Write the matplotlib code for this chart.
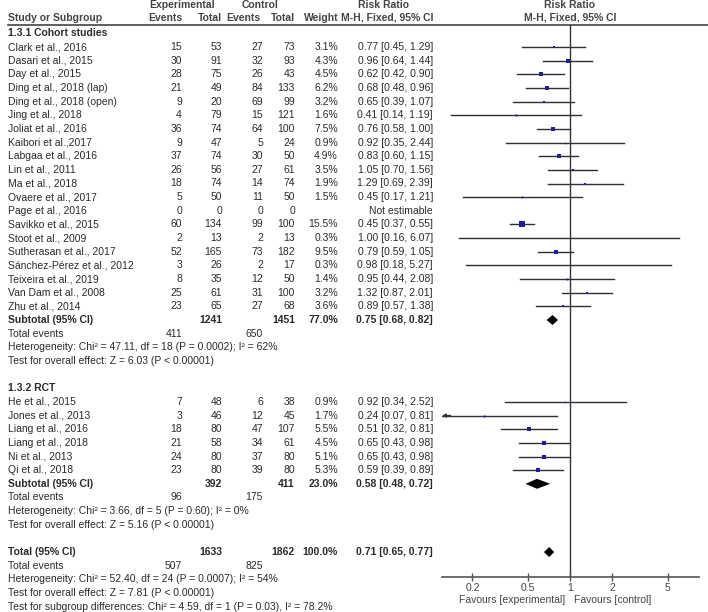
"""
Forest plot: risk ratio, cohort studies vs RCT subgroups (M-H, fixed)
"""
import matplotlib
matplotlib.use('Agg')
import matplotlib.pyplot as plt
import numpy as np

plt.rcParams['font.family'] = ['Liberation Sans', 'DejaVu Sans']
plt.rcParams['font.size'] = 7.5

# ---- data ----
cohort_names = ['Clark et al., 2016', 'Dasari et al., 2015', 'Day et al., 2015',
                'Ding et al., 2018 (lap)', 'Ding et al., 2018 (open)', 'Jing et al., 2018',
                'Joliat et al., 2016', 'Kaibori et al.,2017', 'Labgaa et al., 2016',
                'Lin et al., 2011', 'Ma et al., 2018', 'Ovaere et al., 2017',
                'Page et al., 2016', 'Savikko et al., 2015', 'Stoot et al., 2009',
                'Sutherasan et al., 2017', 'Sánchez-Pérez et al., 2012',
                'Teixeira et al., 2019', 'Van Dam et al., 2008', 'Zhu et al., 2014']
cohort_exp_events = [15, 30, 28, 21, 9, 4, 36, 9, 37, 26, 18, 5, 0, 60, 2, 52, 3, 8, 25, 23]
cohort_exp_total = [53, 91, 75, 49, 20, 79, 74, 47, 74, 56, 74, 50, 0, 134, 13, 165, 26, 35, 61, 65]
cohort_ctl_events = [27, 32, 26, 84, 69, 15, 64, 5, 30, 27, 14, 11, 0, 99, 2, 73, 2, 12, 31, 27]
cohort_ctl_total = [73, 93, 43, 133, 99, 121, 100, 24, 50, 61, 74, 50, 0, 100, 13, 182, 17, 50, 100, 68]
cohort_weight = [3.1, 4.3, 4.5, 6.2, 3.2, 1.6, 7.5, 0.9, 4.9, 3.5, 1.9, 1.5, None, 15.5, 0.3,
                 9.5, 0.3, 1.4, 3.2, 3.6]
cohort_rr = [0.77, 0.96, 0.62, 0.68, 0.65, 0.41, 0.76, 0.92, 0.83, 1.05, 1.29, 0.45, None,
             0.45, 1.00, 0.79, 0.98, 0.95, 1.32, 0.89]
cohort_lo = [0.45, 0.64, 0.42, 0.48, 0.39, 0.14, 0.58, 0.35, 0.60, 0.70, 0.69, 0.17, None,
             0.37, 0.16, 0.59, 0.18, 0.44, 0.87, 0.57]
cohort_hi = [1.29, 1.44, 0.90, 0.96, 1.07, 1.19, 1.00, 2.44, 1.15, 1.56, 2.39, 1.21, None,
             0.55, 6.07, 1.05, 5.27, 2.08, 2.01, 1.38]

rct_names = ['He et al., 2015', 'Jones et al., 2013', 'Liang et al., 2016',
             'Liang et al., 2018', 'Ni et al., 2013', 'Qi et al., 2018']
rct_exp_events = [7, 3, 18, 21, 24, 23]
rct_exp_total = [48, 46, 80, 58, 80, 80]
rct_ctl_events = [6, 12, 47, 34, 37, 39]
rct_ctl_total = [38, 45, 107, 61, 80, 80]
rct_weight = [0.9, 1.7, 5.5, 4.5, 5.1, 5.3]
rct_rr = [0.92, 0.24, 0.51, 0.65, 0.65, 0.59]
rct_lo = [0.34, 0.07, 0.32, 0.43, 0.43, 0.39]
rct_hi = [2.52, 0.81, 0.81, 0.98, 0.98, 0.89]

# subgroup / overall: (exp total, ctl total, weight, rr, lo, hi, exp events, ctl events)
sub_cohort = (1241, 1451, 77.0, 0.75, 0.68, 0.82, 411, 650)
sub_rct = (392, 411, 23.0, 0.58, 0.48, 0.72, 96, 175)
overall = (1633, 1862, 100.0, 0.71, 0.65, 0.77, 507, 825)

het_cohort = 'Heterogeneity: Chi² = 47.11, df = 18 (P = 0.0002); I² = 62%'
eff_cohort = 'Test for overall effect: Z = 6.03 (P < 0.00001)'
het_rct = 'Heterogeneity: Chi² = 3.66, df = 5 (P = 0.60); I² = 0%'
eff_rct = 'Test for overall effect: Z = 5.16 (P < 0.00001)'
het_all = 'Heterogeneity: Chi² = 52.40, df = 24 (P = 0.0007); I² = 54%'
eff_all = 'Test for overall effect: Z = 7.81 (P < 0.00001)'
sub_diff = 'Test for subgroup differences: Chi² = 4.59, df = 1 (P = 0.03), I² = 78.2%'

ticks = [0.2, 0.5, 1, 2, 5]

# ---- layout (pixel coordinates) ----
W, H = 708, 612
ROW0, DY = 47.0, 13.65
def row_y(i):
    return ROW0 + i * DY

X_NAME = 8
X_EE, X_ET, X_CE, X_CT, X_W, X_RR = 182, 222, 263, 295, 338, 433
AX_L, AX_R, AX_TOP, AX_BOT = 442, 699, 25, 577
PX_DEC = 139.5
X_ONE = 570
TXT = '#2a2a2a'
HDR = '#444444'

fig = plt.figure(figsize=(W / 100, H / 100), dpi=100)
tab = fig.add_axes([0, 0, 1, 1])
tab.set_xlim(0, W)
tab.set_ylim(H, 0)
tab.axis('off')

fa = fig.add_axes([AX_L / W, (H - AX_BOT) / H, (AX_R - AX_L) / W, (AX_BOT - AX_TOP) / H])
fa.set_xscale('log')
xmin = 10 ** ((AX_L - X_ONE) / PX_DEC)
xmax = 10 ** ((AX_R - X_ONE) / PX_DEC)
fa.set_xlim(xmin, xmax)
fa.set_ylim(AX_BOT, AX_TOP)
fa.patch.set_visible(False)
for s in ['left', 'top', 'right']:
    fa.spines[s].set_visible(False)
fa.spines['bottom'].set_color('#555555')
fa.spines['bottom'].set_linewidth(1.2)
fa.set_yticks([])
fa.set_xticks(ticks)
fa.set_xticklabels([f'{t:g}' for t in ticks])
fa.xaxis.set_minor_locator(matplotlib.ticker.NullLocator())
fa.tick_params(axis='x', direction='inout', length=6, width=1, color='#555555',
               labelsize=7.5, labelcolor=HDR, pad=1.5)
fa.axvline(1, color='#333333', lw=1.0, zorder=1)


def t(x, y, s, ha='left', bold=False, color=TXT):
    tab.text(x, y, s, ha=ha, va='center', fontweight='bold' if bold else 'normal', color=color)


# header
t(182, 5, 'Experimental', ha='center', bold=True, color=HDR)
t(260, 5, 'Control', ha='center', bold=True, color=HDR)
t(383, 5, 'Risk Ratio', ha='center', bold=True, color=HDR)
t(X_ONE, 5, 'Risk Ratio', ha='center', bold=True, color=HDR)
t(X_NAME, 18, 'Study or Subgroup', bold=True, color=HDR)
t(X_EE, 18, 'Events', ha='right', bold=True, color=HDR)
t(X_ET, 18, 'Total', ha='right', bold=True, color=HDR)
t(260, 18, 'Events', ha='right', bold=True, color=HDR)
t(X_CT, 18, 'Total', ha='right', bold=True, color=HDR)
t(X_W + 1, 18, 'Weight', ha='right', bold=True, color=HDR)
t(X_RR, 18, 'M-H, Fixed, 95% CI', ha='right', bold=True, color=HDR)
t(X_ONE, 18, 'M-H, Fixed, 95% CI', ha='center', bold=True, color=HDR)
tab.plot([X_NAME, W], [25, 25], color=HDR, lw=1.2)


def study_rows(start, names, ee, et, ce, ct, w, rr, lo, hi):
    for k, name in enumerate(names):
        y = row_y(start + k)
        t(X_NAME, y, name)
        t(X_EE, y, str(ee[k]), ha='right')
        t(X_ET, y, str(et[k]), ha='right')
        t(X_CE, y, str(ce[k]), ha='right')
        t(X_CT, y, str(ct[k]), ha='right')
        if rr[k] is None:
            t(X_RR, y, 'Not estimable', ha='right')
            continue
        t(X_W, y, f'{w[k]:.1f}%', ha='right')
        t(X_RR, y, f'{rr[k]:.2f} [{lo[k]:.2f}, {hi[k]:.2f}]', ha='right')
        left = max(lo[k], xmin)
        fa.plot([left, min(hi[k], xmax)], [y, y], color='#2f2f2f', lw=1.0, zorder=2)
        if lo[k] < xmin:
            fa.annotate('', xy=(xmin, y), xytext=(xmin * 1.15, y),
                        arrowprops=dict(arrowstyle='-|>', color='#2f2f2f', lw=1.0,
                                        mutation_scale=5, shrinkA=0, shrinkB=0))
        fa.plot([rr[k]], [y], marker='s', linestyle='none', color='#1c1ca8',
                markersize=1.1 * np.sqrt(w[k]), markeredgewidth=0, zorder=3)


def summary_row(i, label, vals):
    y = row_y(i)
    t(X_NAME, y, label, bold=True)
    t(X_ET, y, str(vals[0]), ha='right', bold=True)
    t(X_CT, y, str(vals[1]), ha='right', bold=True)
    t(X_W, y, f'{vals[2]:.1f}%', ha='right', bold=True)
    t(X_RR, y, f'{vals[3]:.2f} [{vals[4]:.2f}, {vals[5]:.2f}]', ha='right', bold=True)
    hh = 5.0
    fa.fill([vals[4], vals[3], vals[5], vals[3]], [y, y - hh, y, y + hh],
            color='black', lw=0, zorder=3)


def events_row(i, vals):
    y = row_y(i)
    t(X_NAME, y, 'Total events')
    t(X_EE, y, str(vals[6]), ha='right')
    t(X_CE, y, str(vals[7]), ha='right')


# cohort subgroup
t(X_NAME, row_y(-1), '1.3.1 Cohort studies', bold=True)
study_rows(0, cohort_names, cohort_exp_events, cohort_exp_total, cohort_ctl_events,
           cohort_ctl_total, cohort_weight, cohort_rr, cohort_lo, cohort_hi)
summary_row(20, 'Subtotal (95% CI)', sub_cohort)
events_row(21, sub_cohort)
t(X_NAME, row_y(22), het_cohort)
t(X_NAME, row_y(23), eff_cohort)

# RCT subgroup
t(X_NAME, row_y(25), '1.3.2 RCT', bold=True)
study_rows(26, rct_names, rct_exp_events, rct_exp_total, rct_ctl_events,
           rct_ctl_total, rct_weight, rct_rr, rct_lo, rct_hi)
summary_row(32, 'Subtotal (95% CI)', sub_rct)
events_row(33, sub_rct)
t(X_NAME, row_y(34), het_rct)
t(X_NAME, row_y(35), eff_rct)

# overall
summary_row(37, 'Total (95% CI)', overall)
events_row(38, overall)
t(X_NAME, row_y(39), het_all)
t(X_NAME, row_y(40), eff_all)
t(X_NAME, row_y(41), sub_diff)

t(X_ONE - 5, 600, 'Favours [experimental]', ha='right', color=HDR)
t(X_ONE + 4, 600, 'Favours [control]', ha='left', color=HDR)

fig.savefig('out.png', dpi=100)
